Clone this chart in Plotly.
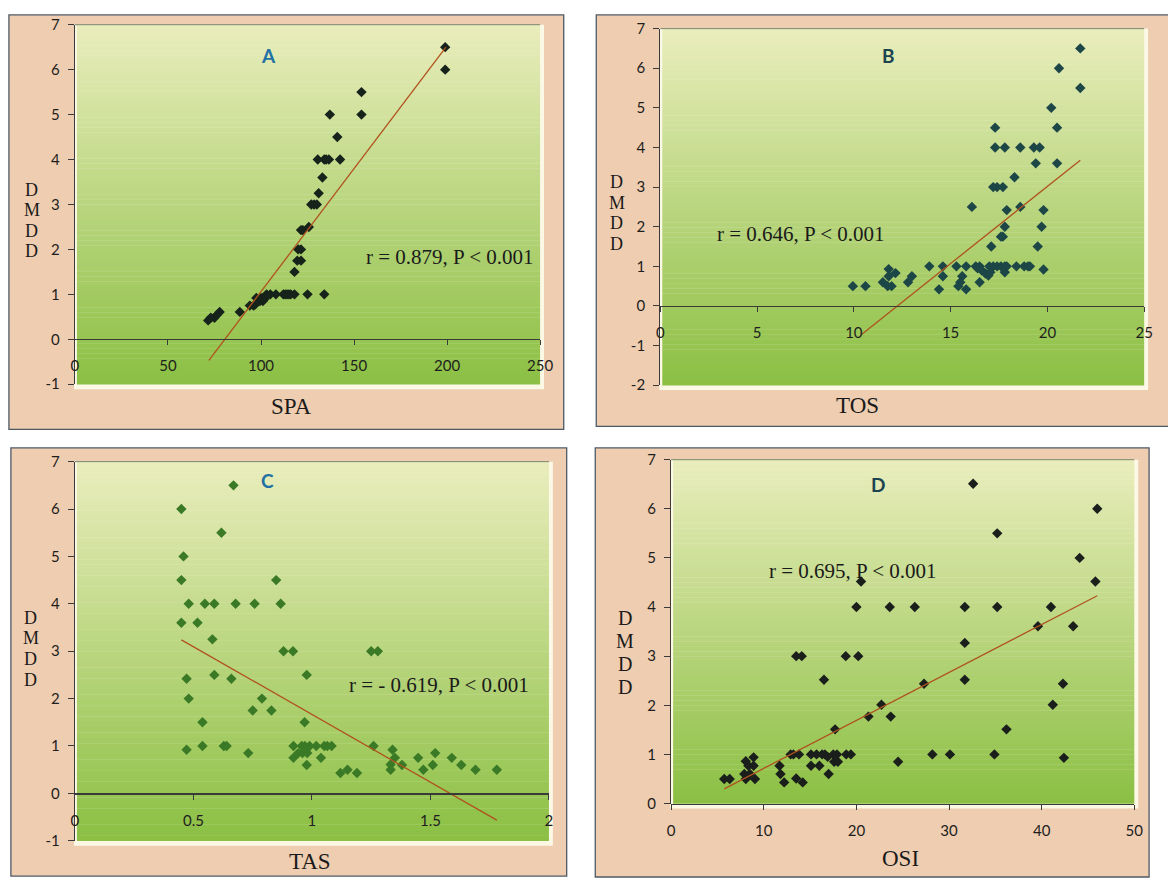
import plotly.graph_objects as go

# ---------------- DATA ----------------
spa_x = [199, 199, 154, 154, 137, 141, 130.5, 134, 135, 136.5, 142.5, 133, 131, 127, 128.5, 130,
         125.7, 121.5, 122.5, 120, 121.5, 119.5, 121.5, 118, 112, 113, 114, 115, 116, 118, 125, 134,
         103, 105, 108, 100, 101, 102, 97.5, 99.4, 94, 96, 97, 88.6, 77.8, 76.5, 75, 73, 71.6]
spa_y = [6.5, 6.0, 5.5, 5.0, 5.0, 4.5, 4.0, 4.0, 4.0, 4.0, 4.0, 3.6, 3.25, 3.0, 3.0, 3.0,
         2.5, 2.43, 2.43, 2.0, 2.0, 1.75, 1.75, 1.5, 1.0, 1.0, 1.0, 1.0, 1.0, 1.0, 1.0, 1.0,
         1.0, 1.0, 1.0, 0.92, 0.85, 0.9, 0.92, 0.85, 0.75, 0.75, 0.78, 0.61, 0.61, 0.55, 0.48, 0.48, 0.42]
spa_trend_x = [72, 199.4]
spa_trend_y = [-0.47, 6.5]

tos_x = [21.7, 21.7, 20.6, 20.2, 20.5, 20.5, 17.3, 17.3, 17.8, 18.6, 19.3, 19.6, 19.4, 18.3,
         17.2, 17.4, 17.7, 16.1, 18.6, 17.9, 19.8, 17.8, 19.7, 17.6, 17.7, 17.1, 19.5,
         13.9, 14.6, 15.3, 15.8, 16.3, 16.5, 17.0, 17.2, 17.4, 17.6, 17.8, 17.9, 18.4, 18.8, 19.0, 19.1,
         16.4, 16.6, 16.8, 16.95, 17.05, 19.8, 17.8, 14.6, 15.6, 15.5, 15.4, 16.5, 14.4, 15.8,
         13.0, 12.8, 12.15, 11.8, 11.8, 11.5, 11.75, 11.95, 10.6, 9.95]
tos_y = [6.5, 5.5, 6.0, 5.0, 4.5, 3.6, 4.5, 4.0, 4.0, 4.0, 4.0, 4.0, 3.6, 3.25,
         3.0, 3.0, 3.0, 2.5, 2.5, 2.42, 2.42, 2.0, 2.0, 1.75, 1.75, 1.5, 1.5,
         1.0, 1.0, 1.0, 1.0, 1.0, 1.0, 1.0, 1.0, 1.0, 1.0, 1.0, 1.0, 1.0, 1.0, 1.0, 1.0,
         0.95, 0.9, 0.82, 0.77, 0.85, 0.92, 0.85, 0.75, 0.75, 0.6, 0.5, 0.6, 0.42, 0.42,
         0.75, 0.6, 0.83, 0.93, 0.75, 0.6, 0.5, 0.5, 0.5, 0.5]
tos_trend_x = [10.4, 21.7]
tos_trend_y = [-0.72, 3.68]

tas_x = [0.669, 0.449, 0.618, 0.458, 0.449, 0.849, 0.48, 0.548, 0.588, 0.678, 0.758, 0.868,
         0.449, 0.517, 0.58, 0.88, 0.92, 1.25, 1.278, 0.588, 0.978, 0.471, 0.66, 0.48, 0.789,
         0.75, 0.829, 0.538, 0.969,
         0.538, 0.628, 0.64, 0.922, 0.957, 0.97, 0.99, 1.018, 1.052, 1.065, 1.083, 1.26,
         0.471, 0.731, 0.942, 0.96, 0.98, 0.975, 0.922, 1.038, 0.978, 1.12, 1.15, 1.19,
         1.34, 1.35, 1.332, 1.332, 1.38, 1.448, 1.47, 1.51, 1.52, 1.59, 1.63, 1.69, 1.78]
tas_y = [6.5, 6.0, 5.5, 5.0, 4.5, 4.5, 4.0, 4.0, 4.0, 4.0, 4.0, 4.0,
         3.6, 3.6, 3.25, 3.0, 3.0, 3.0, 3.0, 2.5, 2.5, 2.42, 2.42, 2.0, 2.0,
         1.75, 1.75, 1.5, 1.5,
         1.0, 1.0, 1.0, 1.0, 1.0, 1.0, 1.0, 1.0, 1.0, 1.0, 1.0, 1.0,
         0.92, 0.85, 0.85, 0.85, 0.85, 0.92, 0.75, 0.75, 0.6, 0.43, 0.5, 0.43,
         0.92, 0.75, 0.61, 0.5, 0.6, 0.75, 0.5, 0.6, 0.85, 0.75, 0.6, 0.5, 0.5]
tas_trend_x = [0.449, 1.78]
tas_trend_y = [3.24, -0.565]

osi_x = [32.6, 46.0, 35.2, 44.1, 20.5, 45.8, 20.0, 23.6, 26.3, 31.7, 35.2, 41.0, 39.6, 43.4,
         31.7, 13.5, 14.1, 18.85, 20.2, 16.5, 31.7, 27.3, 42.3, 22.7, 41.2, 21.3, 23.7, 17.7, 36.2,
         12.9, 13.2, 13.8, 15.1, 15.7, 16.3, 16.6, 17.5, 17.9, 18.9, 19.4, 28.2, 30.1, 34.9,
         16.9, 42.4, 17.6, 18.0, 24.5, 15.1, 16.0, 11.7, 8.06, 8.9, 8.34, 8.9, 7.9, 8.5,
         8.06, 9.05, 11.8, 12.2, 13.5, 14.2, 17.0, 5.73, 6.32]
osi_y = [6.51, 6.0, 5.5, 5.0, 4.52, 4.52, 4.0, 4.0, 4.0, 4.0, 4.0, 4.0, 3.61, 3.61,
         3.27, 3.0, 3.0, 3.0, 3.0, 2.52, 2.52, 2.44, 2.44, 2.01, 2.01, 1.77, 1.77, 1.51, 1.51,
         1.0, 1.0, 1.0, 1.0, 1.0, 1.0, 1.0, 1.0, 1.0, 1.0, 1.0, 1.0, 1.0, 1.0,
         0.95, 0.93, 0.85, 0.85, 0.85, 0.77, 0.77, 0.77, 0.86, 0.94, 0.77, 0.77, 0.6, 0.6,
         0.5, 0.5, 0.6, 0.43, 0.51, 0.43, 0.6, 0.5, 0.5]
osi_trend_x = [5.73, 46.0]
osi_trend_y = [0.3, 4.23]

panel_letters = ["A", "B", "C", "D"]
x_titles = ["SPA", "TOS", "TAS", "OSI"]
y_title_letters = ["D", "M", "D", "D"]
r_texts = ["r = 0.879, P < 0.001", "r = 0.646, P < 0.001",
           "r = - 0.619, P < 0.001", "r = 0.695, P < 0.001"]

a_xticks = [0, 50, 100, 150, 200, 250]
b_xticks = [0, 5, 10, 15, 20, 25]
c_xticks = [0, 0.5, 1, 1.5, 2]
c_xticktext = ["0", "0.5", "1", "1.5", "2"]
d_xticks = [0, 10, 20, 30, 40, 50]
a_yticks = [-1, 0, 1, 2, 3, 4, 5, 6, 7]
b_yticks = [-2, -1, 0, 1, 2, 3, 4, 5, 6, 7]
d_yticks = [0, 1, 2, 3, 4, 5, 6, 7]

# ---------------- LAYOUT HELPERS ----------------
W, H = 1168, 886
def X(px): return px / W
def Y(py): return 1 - py / H

panels = [
    dict(plot=(72, 544, 15, 382), frame=(5, 5, 568, 428), xr=[0, 250], yr=[-1, 7],
         xt=a_xticks, xtt=[str(v) for v in a_xticks], yt=a_yticks,
         x=spa_x, y=spa_y, tx=spa_trend_x, ty=spa_trend_y, mc="#16231a",
         letter=(268, 46), lc="#2270a4", title=(291, 405), r=(540, 252, "right"),
         dmdd=(28, 215, 18, 21)),
    dict(plot=(666, 1157, 19, 383), frame=(601, 5, 1185, 425), xr=[0, 25], yr=[-2, 7],
         xt=b_xticks, xtt=[str(v) for v in b_xticks], yt=b_yticks,
         x=tos_x, y=tos_y, tx=tos_trend_x, ty=tos_trend_y, mc="#1d4747",
         letter=(898, 46), lc="#1c4450", title=(866, 404), r=(722, 229, "left"),
         dmdd=(622, 207, 18, 21)),
    dict(plot=(72, 553, 461, 848), frame=(7, 447, 571, 884), xr=[0, 2], yr=[-1, 7],
         xt=c_xticks, xtt=c_xticktext, yt=a_yticks,
         x=tas_x, y=tas_y, tx=tas_trend_x, ty=tas_trend_y, mc="#3a7a26",
         letter=(267, 480), lc="#2270a4", title=(311, 869), r=(535, 689, "right"),
         dmdd=(27, 652, 18, 21)),
    dict(plot=(677, 1147, 459, 810), frame=(600, 447, 1162, 885), xr=[0, 50], yr=[0, 7],
         xt=d_xticks, xtt=[str(v) for v in d_xticks], yt=d_yticks,
         x=osi_x, y=osi_y, tx=osi_trend_x, ty=osi_trend_y, mc="#1b1f1b",
         letter=(887, 484), lc="#1c4450", title=(910, 866), r=(774, 573, "left"),
         dmdd=(630, 656, 20, 23.5)),
]

fig = go.Figure()
shapes = []
annotations = []
layout_axes = {}

top_c = (233, 237, 188)
bot_c = (139, 191, 67)
N = 70

def ann(text, px, py, size, family, color, xanchor="center"):
    annotations.append(dict(text=text, x=X(px), y=Y(py), xref="paper", yref="paper",
                            xanchor=xanchor, yanchor="middle", showarrow=False,
                            font=dict(family=family, size=size, color=color)))

SERIF = "Liberation Serif, Times New Roman, serif"
SANS = "Lato, Open Sans, sans-serif"

for i, p in enumerate(panels):
    k = "" if i == 0 else str(i + 1)
    x0, x1, yt, yb = p["plot"]
    fx0, fy0, fx1, fy1 = p["frame"]
    shapes.append(dict(type="rect", xref="paper", yref="paper", layer="below",
                       x0=X(fx0), x1=X(fx1), y0=Y(fy1), y1=Y(fy0),
                       fillcolor="#EECDB0", line=dict(color="#4d5a66", width=1.3)))
    shapes.append(dict(type="rect", xref="paper", yref="paper", layer="below",
                       x0=X(x0 - 1), x1=X(x1 + 4), y0=Y(yb + 5), y1=Y(yt),
                       fillcolor="#FBF9E6", line=dict(width=0)))
    h = (yb - yt) / N
    for j in range(N):
        t = (j + 0.5) / N
        c = tuple(round(top_c[m] + (bot_c[m] - top_c[m]) * t) for m in range(3))
        shapes.append(dict(type="rect", xref="paper", yref="paper", layer="below",
                           x0=X(x0 + 2), x1=X(x1), y0=Y(yt + (j + 1) * h + 0.3),
                           y1=Y(yt + j * h),
                           fillcolor="rgb(%d,%d,%d)" % c, line=dict(width=0)))
    shapes.append(dict(type="line", xref="paper", yref="paper", layer="below",
                       x0=X(x0), x1=X(x1), y0=Y(yt), y1=Y(yt),
                       line=dict(color="#7d8570", width=1)))

    xdom = [X(x0), X(x1)]
    ydom = [Y(yb), Y(yt)]
    yr = p["yr"]
    zero_paper = ydom[0] + (0 - yr[0]) / (yr[1] - yr[0]) * (ydom[1] - ydom[0])

    fig.add_trace(go.Scatter(x=p["x"], y=p["y"], mode="markers",
                             marker=dict(symbol="diamond", size=8, color=p["mc"]),
                             xaxis="x" + k, yaxis="y" + k, showlegend=False))
    fig.add_trace(go.Scatter(x=p["tx"], y=p["ty"], mode="lines",
                             line=dict(color="#B0521F", width=1.3),
                             xaxis="x" + k, yaxis="y" + k, showlegend=False))

    tickfont = dict(family=SANS, size=15, color="#1e1e1e")
    layout_axes["xaxis" + k] = dict(
        domain=xdom, range=p["xr"], anchor="free", position=zero_paper,
        tickvals=p["xt"], ticktext=p["xtt"], ticks="outside", ticklen=5,
        tickcolor="#3a3a3a", showline=True, linecolor="#3a3a3a", linewidth=1.2,
        showgrid=False, zeroline=False, tickfont=tickfont, ticklabelstandoff=8,
        fixedrange=True)
    layout_axes["yaxis" + k] = dict(
        domain=ydom, range=yr, anchor="x" + k,
        tickvals=p["yt"], ticktext=[str(v) for v in p["yt"]], ticks="outside", ticklen=6,
        tickcolor="#3a3a3a", showline=True, linecolor="#3a3a3a", linewidth=1.2,
        showgrid=False, zeroline=False, tickfont=tickfont, ticklabelstandoff=5,
        fixedrange=True)

    lx, ly = p["letter"]
    ann("<b>%s</b>" % panel_letters[i], lx, ly, 19, SANS, p["lc"])
    tx_, ty_ = p["title"]
    ann(x_titles[i], tx_, ty_, 23, SERIF, "#1a1a1a")
    rx, ry, ra = p["r"]
    ann(r_texts[i], rx, ry, 21, SERIF, "#1a1a1a", xanchor=ra)
    dx, dy, ds, sp = p["dmdd"]
    for m, letter in enumerate(y_title_letters):
        ann(letter, dx, dy + (m - 1.5) * sp, ds, SERIF, "#1a1a1a")

fig.update_layout(
    width=W, height=H, margin=dict(l=0, r=0, t=0, b=0),
    paper_bgcolor="white", plot_bgcolor="rgba(0,0,0,0)",
    shapes=shapes, annotations=annotations, showlegend=False,
    **layout_axes)

fig.write_html("out.html", config={"displayModeBar": False, "staticPlot": True},
               post_script="document.body.style.margin='0';document.body.style.overflow='hidden';")
